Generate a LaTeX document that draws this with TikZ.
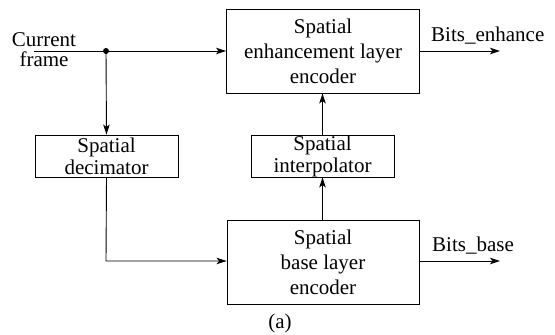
\documentclass[tikz,border=0pt]{standalone}
\usepackage{fontspec}
\setmainfont{Liberation Serif}[Ligatures=TeX]
\newfontfamily\tms{Liberation Serif}
\usetikzlibrary{arrows.meta}
\begin{document}
\begin{tikzpicture}[x=1pt,y=-1pt,
  blk/.style={draw, line width=0.9pt, inner sep=0pt, align=center, font=\tms\fontsize{21}{25}\selectfont},
  lbl/.style={inner sep=0pt, font=\tms\fontsize{21}{20}\selectfont},
  con/.style={line width=0.9pt},
  arr/.style={con, -{Stealth[length=10pt,width=6.5pt,inset=2.5pt]}}]
\useasboundingbox (0,0) rectangle (555,335);
\node[blk, minimum width=193pt, minimum height=84pt] (enh) at (323,51) {Spatial\\enhancement layer\\encoder};
\node[blk, minimum width=192pt, minimum height=84pt] (base) at (323,262) {Spatial\\base layer\\encoder};
\node[blk, minimum width=143pt, minimum height=42pt, font=\tms\fontsize{21}{22}\selectfont] (dec) at (106.5,156) {Spatial\\decimator};
\node[blk, minimum width=143pt, minimum height=42pt, font=\tms\fontsize{21}{22}\selectfont] (intp) at (322.5,156) {Spatial\\interpolator};
\node[lbl, anchor=base, align=center] (cf) at (44,66) {Current\\frame};
\coordinate (start) at (34,51);
\coordinate (split) at (106,51);
\coordinate (corner) at (106,261);
\coordinate (eout) at (500,51);
\coordinate (bout) at (500,261);
\node[lbl, anchor=base west] (be) at (431,41) {Bits\_enhance};
\node[lbl, anchor=base west] (bb) at (432,251) {Bits\_base};
\node[lbl, anchor=base] (cap) at (280,328) {(a)};
\draw[arr] (start) -- (enh.west |- start);
\fill (split) circle (3pt);
\draw[arr] (split) -- (dec.north);
\draw[arr] (dec.south) -- (corner) -- (base.west |- corner);
\draw[arr] (base.north -| intp.south) -- (intp.south);
\draw[arr] (intp.north) -- (enh.south -| intp.north);
\draw[arr] (enh.east |- eout) -- (eout);
\draw[arr] (base.east |- bout) -- (bout);
\end{tikzpicture}
\end{document}
